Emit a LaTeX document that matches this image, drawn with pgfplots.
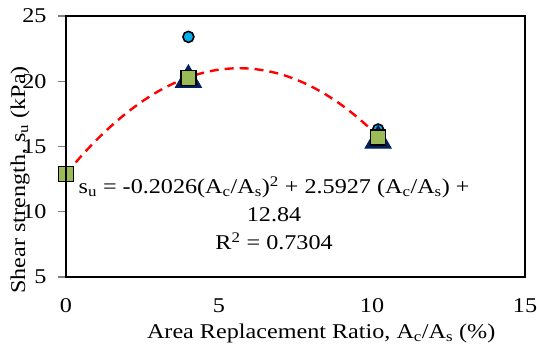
\documentclass[border=0pt]{standalone}
\usepackage{pgfplots}
\pgfplotsset{compat=1.18}
\usepackage{fontspec}
\setmainfont{Liberation Serif}[FakeStretch=1.15]
\definecolor{cblue}{RGB}{0,176,240}
\definecolor{cnavy}{RGB}{0,32,96}
\definecolor{cgreen}{RGB}{155,187,89}
\begin{document}
\begin{tikzpicture}
\useasboundingbox (-66pt,-68pt) rectangle (471pt,277pt);
\begin{axis}[
  at={(0,0)}, anchor=south west,
  scale only axis,
  width=459pt, height=261pt,
  xmin=0, xmax=15, ymin=5, ymax=25,
  xtick={0,5,10,15}, ytick={5,10,15,20,25},
  /pgf/number format/assume math mode=true,
  font=\fontsize{21}{25}\selectfont,
  axis line style={line width=1.4pt},
  tick align=outside,
  ytick pos=left,
  xtick pos=bottom,
  xtick style={/pgfplots/major tick length=0pt},
  ytick style={line width=1.4pt},
  major tick length=8pt,
  xticklabel style={yshift=-10pt},
  yticklabel style={xshift=-8pt},
  xlabel={Area Replacement Ratio, A\textsubscript{c}/A\textsubscript{s} (\%)},
  ylabel={Shear strength, s\textsubscript{u} (kPa)},
  every axis x label/.style={at={(axis description cs:0.556,-0.215)}, anchor=center},
  every axis y label/.style={at={(axis description cs:-0.1,0.372)}, rotate=90, anchor=center},
  clip=false,
]
\addplot[only marks, mark=*, mark size=5.5pt, mark options={fill=cblue, draw=black, line width=1.6pt}]
  coordinates {(4,23.4) (10.2,16.3)};
\addplot[only marks, mark=triangle*, mark size=15pt, mark options={fill=cnavy, draw=cnavy, line width=1pt}]
  coordinates {(4,20.1) (10.2,15.45)};
\addplot[only marks, mark=square*, mark size=7.5pt, mark options={fill=cgreen, draw=black, line width=1.4pt}]
  coordinates {(0,12.9) (4,20.25) (10.2,15.7)};
\addplot[red, line width=2.4pt, dash pattern=on 9pt off 6pt, smooth] coordinates {
 (0,12.90) (0.5,14.27) (1,15.51) (1.5,16.62) (2,17.61) (2.5,18.47) (3,19.21)
 (3.5,19.82) (4,20.30) (4.5,20.66) (5,20.89) (5.5,20.99) (6,20.97) (6.5,20.82)
 (7,20.55) (7.5,20.15) (8,19.62) (8.5,18.97) (9,18.19) (9.5,17.28) (10,16.25) (10.2,15.80)};
\node[align=center, font=\fontsize{21}{28}\selectfont] at (axis cs:6.8,9.9)
  {s\textsubscript{u} = -0.2026(A\textsubscript{c}/A\textsubscript{s})\textsuperscript{2} + 2.5927 (A\textsubscript{c}/A\textsubscript{s}) +\\ 12.84\\ R\textsuperscript{2} = 0.7304};
\end{axis}
\draw[line width=1.6pt, black] (0,0) rectangle (459pt,261pt);
\end{tikzpicture}
\end{document}
